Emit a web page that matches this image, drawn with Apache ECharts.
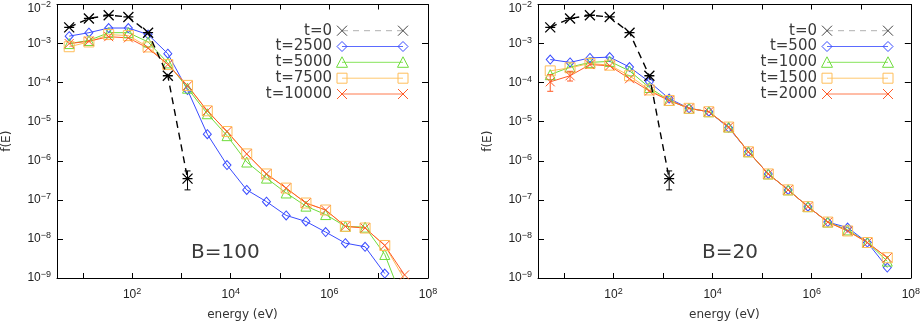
<!DOCTYPE html>
<html>
<head>
<meta charset="utf-8">
<script src="https://cdn.jsdelivr.net/npm/echarts@6/dist/echarts.min.js"></script>
<style>html,body{margin:0;padding:0;background:#fff}#c{width:923px;height:326px}</style>
</head>
<body>
<div id="c"></div>
<script>
// ---- data ----
const energy = [5.3, 13.3, 33.5, 84, 211, 530, 1330, 3350, 8400, 21100, 53000, 133000, 335000, 840000, 2.11e6, 5.3e6, 1.33e7, 3.35e7];
const xTicks = [1e2, 1e4, 1e6, 1e8];
const yTicks = [1e-9, 1e-8, 1e-7, 1e-6, 1e-5, 1e-4, 1e-3, 1e-2];

const t0 = [2.6e-3, 4.4e-3, 5.3e-3, 4.8e-3, 1.9e-3, 1.5e-4, 3.5e-7];
const t0Err = [[1330, 1.8e-7, 5.5e-7]];

// panel B=100
const b100Labels = ['t=0', 't=2500', 't=5000', 't=7500', 't=10000'];
const b100_t2500 = [1.55e-3, 1.9e-3, 2.5e-3, 2.5e-3, 1.7e-3, 5.5e-4, 6.5e-5, 4.8e-6, 7.8e-7, 1.8e-7, 9e-8, 4e-8, 2.8e-8, 1.5e-8, 7.8e-9, 6.3e-9, 1.3e-9];
const b100_t5000 = [1.0e-3, 1.2e-3, 1.9e-3, 1.9e-3, 1.1e-3, 3.2e-4, 7.2e-5, 1.6e-5, 4.4e-6, 9.3e-7, 3.6e-7, 1.5e-7, 6.9e-8, 4.2e-8, 2.1e-8, 2.0e-8, 4e-9, 2e-10];
const b100_t7500 = [8.3e-4, 1.1e-3, 1.7e-3, 1.6e-3, 8.2e-4, 2.9e-4, 8.5e-5, 1.9e-5, 5.6e-6, 1.5e-6, 4.6e-7, 2.0e-7, 8.3e-8, 5.5e-8, 2.1e-8, 1.9e-8, 6.8e-9, 9e-10];
const b100_t10000 = [1.0e-3, 1.15e-3, 1.5e-3, 1.4e-3, 7.6e-4, 2.9e-4, 8.3e-5, 1.9e-5, 5.6e-6, 1.5e-6, 4.6e-7, 2.0e-7, 8.3e-8, 5.5e-8, 2.1e-8, 1.9e-8, 6.8e-9, 1.2e-9];

// panel B=20
const b20Labels = ['t=0', 't=500', 't=1000', 't=1500', 't=2000'];
const b20_t500 = [3.9e-4, 3.3e-4, 4.3e-4, 4.5e-4, 2.5e-4, 1.05e-4, 3.9e-5, 2.2e-5, 1.8e-5, 7.0e-6, 1.7e-6, 4.6e-7, 1.8e-7, 6.7e-8, 2.7e-8, 1.95e-8, 8.1e-9, 1.85e-9];
const b20_t1000 = [1.6e-4, 2.5e-4, 3.3e-4, 3.5e-4, 2.0e-4, 7.5e-5, 3.5e-5, 2.2e-5, 1.8e-5, 7.3e-6, 1.7e-6, 4.6e-7, 1.8e-7, 6.7e-8, 2.7e-8, 1.7e-8, 8.1e-9, 2.7e-9];
const b20_t1500 = [2.0e-4, 2.4e-4, 3.1e-4, 2.8e-4, 1.5e-4, 6.5e-5, 3.5e-5, 2.2e-5, 1.8e-5, 7.3e-6, 1.7e-6, 4.6e-7, 1.8e-7, 6.7e-8, 2.7e-8, 1.6e-8, 8.1e-9, 3.3e-9];
const b20_t2000 = [1.05e-4, 1.5e-4, 2.9e-4, 2.7e-4, 1.26e-4, 6.1e-5, 3.5e-5, 2.2e-5, 1.8e-5, 7.3e-6, 1.7e-6, 4.6e-7, 1.8e-7, 6.7e-8, 2.7e-8, 1.6e-8, 8.1e-9, 3.3e-9];
const b20_t2000Err = [[5.3, 6e-5, 1.6e-4], [13.3, 1.1e-4, 1.95e-4]];

// ---- styling ----
const FONT = 'DejaVu Sans';
const AFONT = 'Liberation Sans';
const C = {
  black: '#000000', blue: '#3a4cff', green: '#6fdc3c', yellow: '#ffbe5a', orange: '#ff5a26'
};
const SYM = {
  ast: 'path://M0,0L10,10M10,0L0,10M0,5L10,5',
  x: 'path://M0,0L10,10M10,0L0,10',
  diamond: 'path://M5,0L10,5L5,10L0,5Z',
  tri: 'path://M5,0L10,10L0,10Z',
  sq: 'path://M0,0L10,0L10,10L0,10Z'
};
const GRIDS = [
  {left: 53, right: 495, top: 3, bottom: 38},
  {left: 538, right: 11, top: 3, bottom: 38}
];

function powLabel(v, top) {
  const e = Math.round(Math.log10(v));
  const s = (e < 0 ? '\u2212' : '') + Math.abs(e);
  if (top) return '{bt|10}{st|' + s + '}';
  return '{b|10}{s|' + s + '}';
}
const rich = {
  b: {fontSize: 12, fontFamily: AFONT, color: '#222'},
  s: {fontSize: 9, fontFamily: AFONT, color: '#222', padding: [0, 0, 7, 0]},
  bt: {fontSize: 12, fontFamily: AFONT, color: '#222', padding: [9, 0, 0, 0]},
  st: {fontSize: 9, fontFamily: AFONT, color: '#222'}
};
function onList(list, v) { return list.some(t => Math.abs(Math.log10(t) - Math.log10(v)) < 1e-6); }

const xAxes = [], yAxes = [];
GRIDS.forEach((g, gi) => {
  const base = {type: 'log', logBase: 10, min: 3, max: 1e8, gridIndex: gi,
    axisLine: {show: true, onZero: false, lineStyle: {color: '#000', width: 1}},
    axisTick: {show: true, inside: true, length: 5, lineStyle: {color: '#000'}},
    splitLine: {show: false}, minorTick: {show: false}};
  xAxes.push(Object.assign({}, base, {
    position: 'bottom',
    name: 'energy (eV)', nameLocation: 'middle', nameGap: 31,
    nameTextStyle: {fontFamily: FONT, fontSize: 12, color: '#333'},
    axisLabel: {margin: 9, rich: rich, formatter: v => (onList(xTicks, v) ? powLabel(v) : '')}
  }));
  xAxes.push(Object.assign({}, base, {position: 'top', axisLabel: {show: false}}));
  const ybase = {type: 'log', logBase: 10, min: 1e-9, max: 1e-2, gridIndex: gi,
    axisLine: {show: true, onZero: false, lineStyle: {color: '#000', width: 1}},
    axisTick: {show: true, inside: true, length: 6, lineStyle: {color: '#000'}},
    splitLine: {show: false}};
  yAxes.push(Object.assign({}, ybase, {
    position: 'left',
    name: 'f(E)', nameLocation: 'middle', nameGap: 44, nameRotate: 90,
    nameTextStyle: {fontFamily: FONT, fontSize: 12, color: '#333'},
    axisLabel: {margin: 6, rich: rich,
      formatter: v => (onList(yTicks, v) ? powLabel(v, Math.round(Math.log10(v)) === -2) : '')}
  }));
  yAxes.push(Object.assign({}, ybase, {position: 'right', axisLabel: {show: false}}));
});

function lineSeries(name, vals, color, symbol, size, gi, extra) {
  return Object.assign({
    type: 'line', name: name,
    xAxisIndex: gi * 2, yAxisIndex: gi * 2,
    data: vals.map((v, i) => [energy[i], v]),
    symbol: symbol, symbolSize: size, showAllSymbol: true,
    lineStyle: {color: color, width: 1},
    itemStyle: {color: 'rgba(0,0,0,0)', borderColor: color, borderWidth: 1},
    emphasis: {disabled: true}, animation: false, clip: true, z: 3
  }, extra || {});
}
function errSeries(data, color, gi) {
  return {
    type: 'custom', xAxisIndex: gi * 2, yAxisIndex: gi * 2, data: data, z: 4,
    encode: {x: 0, y: [1, 2]},
    renderItem: (params, api) => {
      const a = api.coord([api.value(0), api.value(1)]);
      const b = api.coord([api.value(0), api.value(2)]);
      const w = 3;
      const st = {stroke: color, lineWidth: 1};
      return {type: 'group', children: [
        {type: 'line', shape: {x1: a[0], y1: a[1], x2: b[0], y2: b[1]}, style: st},
        {type: 'line', shape: {x1: a[0] - w, y1: a[1], x2: a[0] + w, y2: a[1]}, style: st},
        {type: 'line', shape: {x1: b[0] - w, y1: b[1], x2: b[0] + w, y2: b[1]}, style: st}
      ]};
    },
    animation: false
  };
}
function t0Series(gi) {
  return lineSeries('t=0', t0, C.black, SYM.ast, 10, gi, {
    lineStyle: {color: '#000', width: 1.4, type: [7, 5]},
    itemStyle: {color: 'rgba(0,0,0,0)', borderColor: '#000', borderWidth: 1.3}, z: 5
  });
}

const series = [
  t0Series(0),
  lineSeries('t=2500', b100_t2500, C.blue, SYM.diamond, [8, 9], 0),
  lineSeries('t=5000', b100_t5000, C.green, SYM.tri, 10, 0),
  lineSeries('t=7500', b100_t7500, C.yellow, SYM.sq, 10, 0),
  lineSeries('t=10000', b100_t10000, C.orange, SYM.x, 9, 0),
  errSeries(t0Err, '#000', 0),
  t0Series(1),
  lineSeries('t=500', b20_t500, C.blue, SYM.diamond, [8, 9], 1),
  lineSeries('t=1000', b20_t1000, C.green, SYM.tri, 10, 1),
  lineSeries('t=1500', b20_t1500, C.yellow, SYM.sq, 10, 1),
  lineSeries('t=2000', b20_t2000, C.orange, SYM.x, 9, 1),
  errSeries(t0Err, '#000', 1),
  errSeries(b20_t2000Err, C.orange, 1)
];

// ---- legends drawn as decoration ----
function mkX(cx, cy, color) {
  return [
    {type: 'line', silent: true, shape: {x1: cx - 5, y1: cy - 5, x2: cx + 5, y2: cy + 5}, style: {stroke: color, lineWidth: 1}},
    {type: 'line', silent: true, shape: {x1: cx + 5, y1: cy - 5, x2: cx - 5, y2: cy + 5}, style: {stroke: color, lineWidth: 1}}
  ];
}
function mkDiamond(cx, cy, color) {
  return [{type: 'polygon', silent: true, shape: {points: [[cx, cy - 5], [cx + 5, cy], [cx, cy + 5], [cx - 5, cy]]}, style: {fill: 'none', stroke: color, lineWidth: 1}}];
}
function mkTri(cx, cy, color) {
  return [{type: 'polygon', silent: true, shape: {points: [[cx, cy - 5.5], [cx + 5.5, cy + 5], [cx - 5.5, cy + 5]]}, style: {fill: 'none', stroke: color, lineWidth: 1}}];
}
function mkSq(cx, cy, color) {
  return [{type: 'rect', silent: true, shape: {x: cx - 5, y: cy - 5, width: 10, height: 10}, style: {fill: 'none', stroke: color, lineWidth: 1}}];
}
const legendStyles = [
  {color: '#444', line: '#b0b0b0', dash: [6, 5], mk: mkX},
  {color: C.blue, line: '#5b6bff', mk: mkDiamond},
  {color: C.green, line: '#86e45a', mk: mkTri},
  {color: C.yellow, line: '#ffc86e', mk: mkSq},
  {color: C.orange, line: '#ff7a4e', mk: mkX}
];
const graphic = [];
function legend(labels, textRight, x1, x2, rows) {
  labels.forEach((lab, i) => {
    const y = rows[i], ls = legendStyles[i];
    graphic.push({type: 'text', x: textRight, y: y, silent: true,
      style: {text: lab, fontFamily: FONT, fontSize: 15, fill: '#3a3a3a', align: 'right', verticalAlign: 'middle'}});
    graphic.push({type: 'line', silent: true, shape: {x1: x1, y1: y, x2: x2, y2: y},
      style: {stroke: ls.line, lineWidth: 1, lineDash: ls.dash || null}});
    [x1, x2].forEach(cx => { ls.mk(cx, y, ls.color).forEach(el => graphic.push(el)); });
  });
}
const rows = [30.7, 46.5, 62.3, 78.2, 94];
legend(b100Labels, 332, 342, 403, rows);
legend(b20Labels, 817, 827, 888, rows);
graphic.push({type: 'text', x: 191, y: 253, silent: true,
  style: {text: 'B=100', fontFamily: FONT, fontSize: 20, fill: '#3a3a3a', verticalAlign: 'middle'}});
graphic.push({type: 'text', x: 702, y: 253, silent: true,
  style: {text: 'B=20', fontFamily: FONT, fontSize: 20, fill: '#3a3a3a', verticalAlign: 'middle'}});

const chart = echarts.init(document.getElementById('c'), null, {renderer: 'canvas'});
chart.setOption({
  animation: false,
  backgroundColor: '#fff',
  grid: GRIDS,
  xAxis: xAxes,
  yAxis: yAxes,
  series: series,
  graphic: graphic
});
</script>
</body>
</html>
